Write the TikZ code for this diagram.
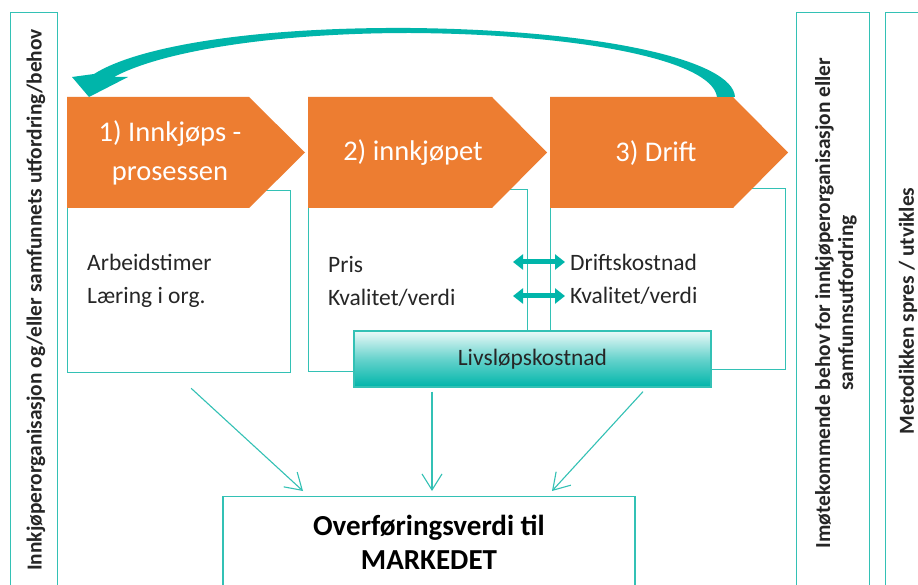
\documentclass[tikz,border=0pt]{standalone}
\usepackage{fontspec}
\setmainfont{Carlito}
\usetikzlibrary{arrows.meta,calc}
\definecolor{procorange}{HTML}{ED7D31}
\definecolor{tealline}{HTML}{33C1B5}
\definecolor{tealfill}{HTML}{00B5AA}
\definecolor{textgray}{HTML}{262626}
\begin{document}
\begin{tikzpicture}[x=1pt,y=-1pt,
  box/.style={draw=tealline,line width=1.3pt,anchor=north west,inner sep=0pt},
  link/.style={draw=tealline,line width=1.1pt,-{Straight Barb[length=16pt,width=20pt]}},
  tradeoff/.style={draw=tealfill,line width=5pt,{Triangle[length=10pt,width=15pt]}-{Triangle[length=10pt,width=15pt]}},
  bodytext/.style={anchor=west,align=left,inner sep=0pt,text=textgray,font=\fontsize{23.5}{33}\selectfont},
  steptext/.style={align=center,inner sep=0pt,text=white,font=\fontsize{28.5}{39}\selectfont},
  sidetext/.style={rotate=90,align=center,inner sep=0pt,text=textgray,font=\bfseries\fontsize{21.4}{23}\selectfont}]
\useasboundingbox (0,0) rectangle (918,585);
\clip (0,0) rectangle (918,585);
\fill[white] (0,0) rectangle (918,585);
% side columns
\node[box,minimum width=47pt,minimum height=580pt] (need) at (10,12) {};
\node[sidetext] (needtxt) at (36,300) {Innkjøperorganisasjon og/eller samfunnets utfordring/behov};
\node[box,minimum width=73pt,minimum height=580pt] (meet) at (796,12) {};
\node[sidetext] (meettxt) at (836,303) {Imøtekommende behov for innkjøperorganisasjon eller\\samfunnsutfordring};
\node[box,minimum width=80pt,minimum height=580pt] (spread) at (885,12) {};
\node[sidetext] (spreadtxt) at (908,311) {Metodikken spres / utvikles};
% value boxes behind the steps
\node[box,minimum width=223pt,minimum height=182pt] (box1) at (67,190) {};
\node[box,minimum width=219pt,minimum height=182pt] (box2) at (308,189) {};
\node[box,minimum width=235pt,minimum height=181pt] (box3) at (550,188) {};
% steps
\fill[procorange] (67,97) -- (249,97) -- (305,152.5) -- (249,208) -- (67,208) -- cycle;
\fill[procorange] (308,97) -- (492,97) -- (547,152.5) -- (492,208) -- (308,208) -- cycle;
\fill[procorange] (550,97) -- (733,97) -- (788,152.5) -- (733,208) -- (550,208) -- cycle;
\node[steptext] (step1) at (170,153) {1) Innkjøps -\\prosessen};
\node[steptext] (step2) at (413,153) {2) innkjøpet};
\node[steptext] (step3) at (656,153) {3) Drift};
% costs
\node[bodytext] (cost1) at (87,281) {Arbeidstimer\\Læring i org.};
\node[bodytext] (cost2) at (328,281) {Pris\\Kvalitet/verdi};
\node[bodytext] (cost3) at (570,279) {Driftskostnad\\Kvalitet/verdi};
\coordinate (trade1w) at (513,262);
\coordinate (trade1e) at (565,262);
\coordinate (trade2w) at (513,296);
\coordinate (trade2e) at (565,296);
\draw[tradeoff] (trade1w) -- (trade1e);
\draw[tradeoff] (trade2w) -- (trade2e);
% life cycle cost
\node[draw=tealline,line width=1.3pt,top color=tealfill!8,bottom color=tealfill,middle color=tealfill!60,
  minimum width=357pt,minimum height=56pt,text=textgray,font=\fontsize{23.5}{28}\selectfont] (lcc) at (532.5,359) {Livsløpskostnad};
% market
\node[box,anchor=north,minimum width=412pt,minimum height=92pt,align=center,
  font=\bfseries\fontsize{29}{34}\selectfont] (market) at (429,496) {Overføringsverdi til\\MARKEDET};
\draw[link] ($(box1.south)+(12,15)$) -- ($(market.north)+(-126,-5)$);
\draw[link] ($(lcc.south)+(-100.5,4)$) -- ($(market.north)+(3,-5)$);
\draw[link] ($(lcc.south)+(110.5,4)$) -- ($(market.north)+(123,-5)$);
% return arrow
\fill[tealfill] (735,97) .. controls (733,60) and (600,30) .. (410,28)
  .. controls (260,27) and (140,45) .. (94,74) -- (72,77) -- (89,97) -- (128,77) -- (114,77)
  .. controls (160,52) and (270,33) .. (410,33) .. controls (580,34) and (712,60) .. (717,97) -- cycle;
\end{tikzpicture}
\end{document}
